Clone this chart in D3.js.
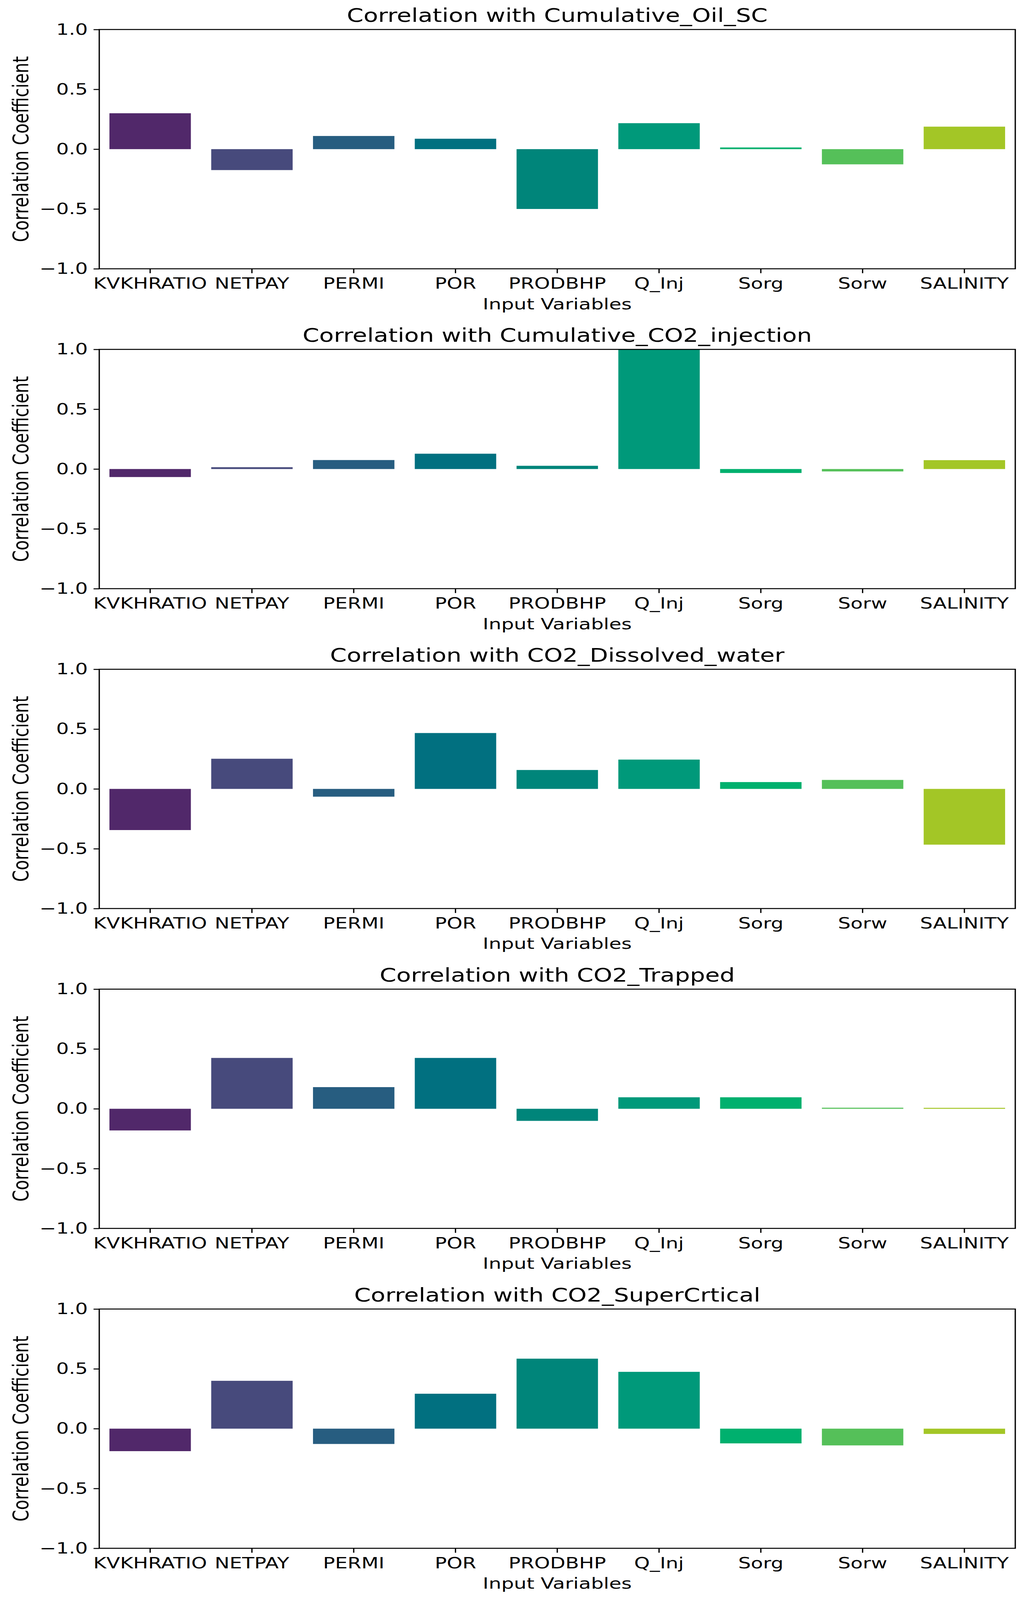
<!DOCTYPE html>
<html>
<head>
<meta charset="utf-8">
<script src="https://cdn.jsdelivr.net/npm/d3@7"></script>
<style>
  html, body { margin: 0; padding: 0; background: #fff; overflow: hidden; }
  svg { display: block; }
  text { font-family: "DejaVu Sans", sans-serif; fill: #000; }
</style>
</head>
<body>
<svg id="chart"></svg>
<script>
// ---- data ----
const categories = ["KVKHRATIO", "NETPAY", "PERMI", "POR", "PRODBHP", "Q_Inj", "Sorg", "Sorw", "SALINITY"];
const titles = [
  "Correlation with Cumulative_Oil_SC",
  "Correlation with Cumulative_CO2_injection",
  "Correlation with CO2_Dissolved_water",
  "Correlation with CO2_Trapped",
  "Correlation with CO2_SuperCrtical"
];
const oilSC        = [0.300, -0.175, 0.110, 0.087, -0.500, 0.217, 0.014, -0.127, 0.188];
const co2Injection = [-0.067, 0.015, 0.075, 0.128, 0.027, 1.000, -0.033, -0.020, 0.074];
const co2Dissolved = [-0.344, 0.252, -0.065, 0.467, 0.158, 0.245, 0.057, 0.075, -0.466];
const co2Trapped   = [-0.181, 0.425, 0.181, 0.425, -0.101, 0.096, 0.096, 0.009, 0.008];
const co2Super     = [-0.188, 0.400, -0.128, 0.292, 0.585, 0.475, -0.123, -0.140, -0.044];
const seriesList = [oilSC, co2Injection, co2Dissolved, co2Trapped, co2Super];
const yTicks = [-1.0, -0.5, 0.0, 0.5, 1.0];
const palette = ["#51286a", "#474a7c", "#275d80", "#017080", "#00857a", "#00997a", "#00b06e", "#55c059", "#a3c626"];

// ---- layout (drawn in the reference's 2628x5298 space, fitted to the window) ----
const W = 2628, H = 5298;
const vw = window.innerWidth || W, vh = Math.min(window.innerHeight || H, H);
const svg = d3.select("#chart")
  .attr("width", vw).attr("height", vh)
  .attr("viewBox", `0 0 ${W} ${H}`)
  .attr("preserveAspectRatio", "none");
svg.append("rect").attr("width", W).attr("height", H).attr("fill", "#fff");

const left = 254, right = 2598;
const top0 = 97.7, axH = 792.3, step = 1059.2;
const tickLen = 14.6, tickPad = 14.6, lw = 3.3;
const fsTick = 51, fsTitle = 61, fsXLabel = 51, fsYLabel = 55;

const x = d3.scaleBand().domain(categories).range([left, right]).paddingInner(0.2).paddingOuter(0.1);
const color = d3.scaleOrdinal().domain(categories).range(palette);
const fmt = v => d3.format(".1f")(v).replace("-", "\u2212");

seriesList.forEach((vals, i) => {
  const top = top0 + i * step;
  const bottom = top + axH;
  const y = d3.scaleLinear().domain([-1, 1]).range([bottom, top]);
  const g = svg.append("g");

  // bars
  g.selectAll("rect.bar").data(categories.map((c, k) => ({c, v: vals[k]})))
    .enter().append("rect").attr("class", "bar")
    .attr("x", d => x(d.c))
    .attr("width", x.bandwidth())
    .attr("y", d => y(Math.max(0, d.v)))
    .attr("height", d => Math.abs(y(d.v) - y(0)))
    .attr("fill", d => color(d.c));

  // y axis
  const ya = g.append("g").attr("transform", `translate(${left},0)`)
    .call(d3.axisLeft(y).tickValues(yTicks).tickFormat(fmt).tickSize(tickLen).tickSizeOuter(0).tickPadding(tickPad));
  ya.select(".domain").remove();
  ya.selectAll(".tick line").attr("stroke", "#000").attr("stroke-width", lw);
  ya.selectAll(".tick text").attr("font-size", fsTick).attr("font-family", "DejaVu Sans").attr("fill", "#000");

  // x axis
  const xa = g.append("g").attr("transform", `translate(0,${bottom})`)
    .call(d3.axisBottom(x).tickSize(tickLen).tickSizeOuter(0).tickPadding(tickPad));
  xa.select(".domain").remove();
  xa.selectAll(".tick line").attr("stroke", "#000").attr("stroke-width", lw);
  xa.selectAll(".tick text").attr("font-size", fsTick).attr("font-family", "DejaVu Sans").attr("fill", "#000")
    .attr("dy", null).attr("y", 66).attr("dominant-baseline", "alphabetic");

  // frame
  g.append("rect").attr("x", left).attr("y", top).attr("width", right - left).attr("height", bottom - top)
    .attr("fill", "none").attr("stroke", "#000").attr("stroke-width", lw);

  // title
  g.append("text").attr("x", (left + right) / 2).attr("y", top - 25)
    .attr("text-anchor", "middle").attr("font-size", fsTitle).text(titles[i]);

  // x label
  g.append("text").attr("x", (left + right) / 2).attr("y", bottom + 134)
    .attr("text-anchor", "middle").attr("font-size", fsXLabel).text("Input Variables");

  // y label
  g.append("text").attr("transform", `translate(72,${(top + bottom) / 2}) rotate(-90)`)
    .attr("text-anchor", "middle").attr("font-size", fsYLabel).text("Correlation Coefficient");
});
</script>
</body>
</html>
